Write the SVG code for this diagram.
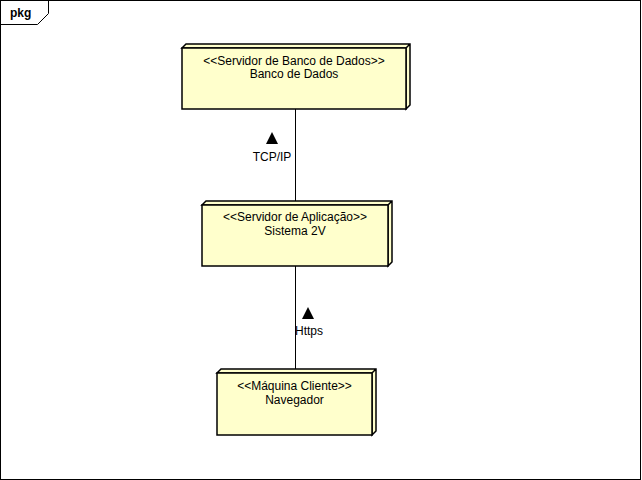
<svg xmlns="http://www.w3.org/2000/svg" width="642" height="480" viewBox="0 0 642 480">
<style>
text{font-family:"Liberation Sans",Arial,sans-serif;font-size:12px;fill:#000}
.c{text-anchor:middle}
.front{fill:#ffffcc;stroke:#000;stroke-width:1.5}
.side{fill:#ffffcc;stroke:#000;stroke-width:1.5;stroke-linejoin:miter}
.ln{stroke:#000;stroke-width:1;fill:none}
</style>
<rect width="642" height="480" fill="#fff"/>
<g id="frame">
<rect x="0.5" y="0.5" width="640" height="479" fill="none" stroke="#000" stroke-width="1"/>
<path d="M0.5,24.5 H37.5 L48.5,13.5 V0.5" fill="none" stroke="#000" stroke-width="1"/>
<text x="10" y="17" style="font-weight:bold">pkg</text>
</g>
<g id="connectors">
<line class="ln" x1="295.5" y1="109" x2="295.5" y2="205"/>
<line class="ln" x1="295.5" y1="266" x2="295.5" y2="373"/>
<polygon points="272,132 278,144 266,144" fill="#000"/>
<text class="c" x="272" y="161">TCP/IP</text>
<polygon points="308,307 314,319 302,319" fill="#000"/>
<text class="c" x="309" y="335">Https</text>
</g>
<g id="node-banco">
<path class="side" d="M182,48 L186,44 H410 V105 L406,109 V48 Z M406,48 L410,44"/>
<rect class="front" x="182" y="48" width="224" height="61"/>
<text class="c" x="294" y="65">&lt;&lt;Servidor de Banco de Dados&gt;&gt;</text>
<text class="c" x="294" y="78">Banco de Dados</text>
</g>
<g id="node-sistema">
<path class="side" d="M202,205 L206,201 H392 V262 L388,266 V205 Z M388,205 L392,201"/>
<rect class="front" x="202" y="205" width="186" height="61"/>
<text class="c" x="295" y="221">&lt;&lt;Servidor de Aplicação&gt;&gt;</text>
<text class="c" x="295" y="235">Sistema 2V</text>
</g>
<g id="node-navegador">
<path class="side" d="M217,373 L221,369 H376 V431 L372,435 V373 Z M372,373 L376,369"/>
<rect class="front" x="217" y="373" width="155" height="62"/>
<text class="c" x="294.5" y="390">&lt;&lt;Máquina Cliente&gt;&gt;</text>
<text class="c" x="294.5" y="404">Navegador</text>
</g>
</svg>
